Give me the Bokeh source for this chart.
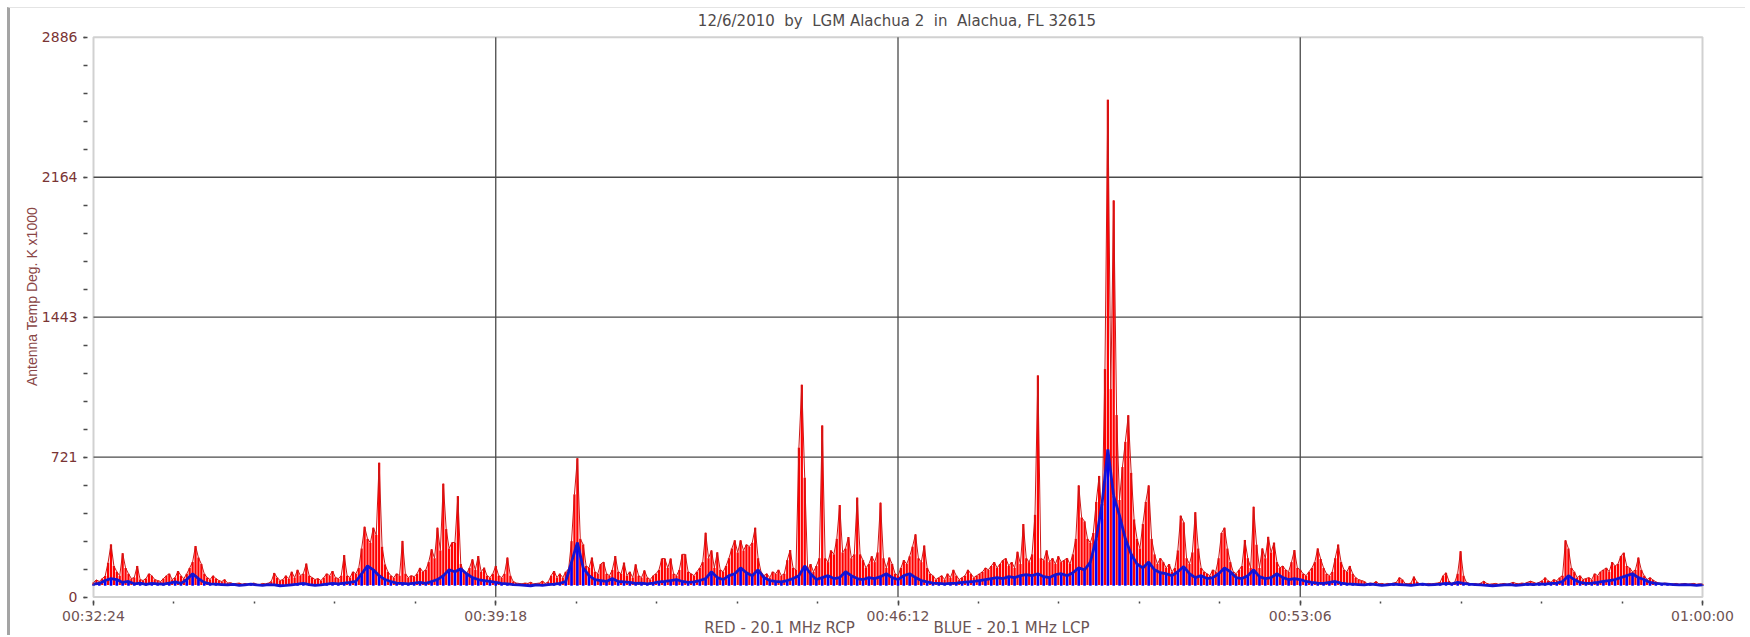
import numpy as np
from math import pi
from bokeh.plotting import figure
from bokeh.models import Range1d, FixedTicker, Label, LinearAxis, BoxAnnotation
from bokeh.embed import file_html
from bokeh.resources import INLINE

# ---------------- data (time = seconds after 00:32:24) ----------------
TITLE = "12/6/2010  by  LGM Alachua 2  in  Alachua, FL 32615"
Y_LABEL = "Antenna Temp Deg. K x1000"
LEGEND_RED = "RED - 20.1 MHz RCP"
LEGEND_BLUE = "BLUE - 20.1 MHz LCP"

x_ticks = [0, 414, 828, 1242, 1656]
x_tick_labels = ["00:32:24", "00:39:18", "00:46:12", "00:53:06", "01:00:00"]
y_ticks = [0, 721, 1443, 2164, 2886]
y_tick_labels = ["0", "721", "1443", "2164", "2886"]

red_step = 3   # seconds between samples
blue_step = 6

red_rcp = [
    75, 88, 80, 95, 108, 177, 271, 160, 130, 110, 225, 150, 120, 95, 100, 160, 90, 85, 95, 120, 110, 90, 85,
    80, 95, 110, 120, 90, 100, 134, 110, 95, 120, 150, 180, 263, 203, 170, 120, 100, 90, 110, 95, 85, 80, 90,
    72, 74, 68, 70, 72, 66, 70, 66, 68, 72, 66, 64, 70, 68, 72, 80, 124, 100, 85, 90, 110, 95, 130,
    100, 140, 110, 120, 172, 110, 100, 90, 95, 85, 100, 120, 110, 134, 100, 95, 110, 216, 110, 100, 130, 120, 150,
    250, 362, 300, 280, 357, 320, 692, 259, 168, 130, 110, 100, 120, 110, 289, 120, 100, 110, 105, 120, 150, 130, 140,
    180, 246, 200, 357, 240, 584, 350, 250, 281, 281, 520, 170, 130, 120, 150, 194, 140, 211, 130, 151, 110, 100, 120,
    160, 110, 100, 120, 203, 110, 80, 72, 70, 68, 72, 70, 76, 68, 70, 72, 82, 70, 78, 110, 134, 100, 120,
    100, 130, 143, 288, 529, 715, 300, 271, 160, 150, 203, 130, 120, 170, 180, 120, 110, 140, 211, 130, 120, 177, 110,
    130, 100, 168, 110, 100, 137, 100, 90, 110, 120, 140, 198, 198, 150, 198, 120, 110, 140, 220, 220, 130, 120, 110,
    130, 150, 180, 331, 200, 240, 150, 230, 140, 130, 160, 200, 250, 292, 230, 292, 240, 270, 260, 280, 357, 200, 130,
    110, 120, 100, 130, 120, 140, 110, 120, 190, 242, 150, 140, 770, 1094, 615, 140, 170, 130, 160, 200, 884, 200, 180,
    240, 220, 300, 474, 230, 250, 309, 200, 220, 512, 220, 190, 150, 170, 210, 180, 230, 486, 200, 150, 203, 170, 120,
    110, 150, 190, 170, 210, 260, 323, 200, 180, 265, 150, 120, 110, 90, 100, 110, 90, 120, 100, 140, 110, 90, 100,
    110, 140, 120, 100, 110, 120, 130, 150, 140, 160, 180, 150, 170, 190, 199, 160, 180, 150, 233, 170, 376, 200, 180,
    220, 424, 1142, 200, 190, 240, 180, 200, 170, 210, 180, 190, 200, 170, 220, 300, 575, 410, 390, 300, 280, 330, 490,
    624, 400, 1175, 2563, 1072, 2044, 938, 500, 670, 800, 937, 640, 400, 300, 250, 376, 490, 575, 300, 220, 170, 200, 180,
    150, 170, 130, 150, 240, 419, 385, 200, 170, 230, 437, 250, 150, 130, 120, 110, 140, 130, 200, 330, 357, 250, 180,
    130, 120, 140, 160, 294, 200, 150, 465, 270, 150, 250, 200, 310, 230, 280, 180, 150, 160, 140, 130, 180, 242, 150,
    140, 120, 110, 130, 150, 180, 250, 196, 150, 120, 110, 130, 200, 270, 180, 140, 130, 160, 120, 100, 90, 85, 80,
    68, 72, 70, 80, 68, 70, 66, 70, 68, 72, 76, 100, 90, 70, 68, 72, 105, 78, 68, 70, 66, 70, 68,
    70, 72, 76, 110, 125, 82, 70, 76, 120, 236, 110, 76, 70, 68, 70, 66, 72, 82, 70, 66, 68, 70, 66,
    68, 70, 66, 70, 76, 70, 68, 72, 70, 76, 82, 76, 70, 76, 84, 100, 84, 76, 90, 84, 100, 110, 292,
    250, 150, 130, 100, 110, 90, 95, 100, 90, 120, 110, 130, 140, 150, 130, 180, 160, 170, 211, 228, 160, 150, 130,
    140, 203, 140, 110, 90, 100, 88, 78, 72, 68, 72, 70, 66, 68, 70, 66, 68, 70, 66, 68, 70, 66, 68,
    66,
]

blue_lcp = [
    66, 70, 85, 95, 90, 75, 80, 68, 72, 65, 70, 68, 66, 72, 78, 70, 90, 120, 95, 75, 68, 66, 64,
    62, 65, 60, 63, 66, 62, 60, 64, 62, 58, 60, 63, 66, 70, 64, 60, 62, 66, 70, 68, 72, 75, 80,
    120, 160, 140, 110, 90, 80, 72, 70, 68, 72, 75, 70, 80, 90, 110, 140, 130, 145, 120, 100, 90, 85, 80,
    75, 70, 68, 64, 62, 60, 58, 62, 60, 64, 66, 70, 80, 180, 280, 150, 110, 90, 85, 80, 95, 80, 78,
    75, 70, 72, 68, 72, 78, 80, 85, 90, 80, 75, 78, 85, 95, 130, 100, 90, 110, 120, 150, 125, 110, 140,
    100, 85, 80, 78, 85, 95, 110, 160, 120, 90, 100, 110, 95, 100, 130, 110, 95, 90, 100, 95, 105, 120, 100,
    90, 110, 120, 100, 85, 78, 72, 70, 68, 70, 72, 75, 78, 80, 85, 90, 95, 100, 95, 105, 100, 110, 115,
    110, 120, 105, 100, 115, 120, 110, 125, 150, 140, 180, 300, 480, 760, 520, 420, 300, 220, 170, 150, 180, 140, 125,
    120, 110, 130, 157, 120, 100, 110, 95, 100, 120, 150, 130, 100, 95, 110, 140, 105, 95, 100, 120, 100, 90, 95,
    90, 80, 75, 72, 70, 75, 80, 72, 68, 66, 64, 62, 66, 64, 60, 62, 66, 64, 62, 60, 64, 66, 62,
    64, 66, 70, 68, 75, 70, 66, 64, 62, 60, 58, 60, 62, 64, 60, 62, 66, 64, 68, 66, 70, 72, 80,
    110, 90, 75, 70, 72, 75, 80, 85, 90, 100, 110, 120, 100, 90, 75, 70, 68, 66, 64, 62, 64, 62, 60,
    62,
]

red_t = np.arange(len(red_rcp)) * red_step
blue_t = np.arange(len(blue_lcp)) * blue_step

# ---------------- layout (canvas pixels) ----------------
CW, CH = 1738, 628
FRAME_L, FRAME_R = 83.0, 1692.0     # plot box left/right edge
FRAME_T, FRAME_B = 28.7, 588.5      # plot box top/bottom edge
sx = (x_ticks[-1] - x_ticks[0]) / (FRAME_R - FRAME_L)
sy = (y_ticks[-1] - y_ticks[0]) / (FRAME_B - FRAME_T)
x_start = x_ticks[0] - FRAME_L * sx
x_end = x_ticks[-1] + (CW - FRAME_R) * sx
y_start = y_ticks[0] - (CH - FRAME_B) * sy
y_end = y_ticks[-1] + FRAME_T * sy


def at(cx, cy):
    """canvas pixel -> data coordinates"""
    return x_start + cx * sx, y_end - cy * sy


p = figure(width=CW, height=CH, output_backend="svg", toolbar_location=None,
           x_range=Range1d(x_start, x_end), y_range=Range1d(y_start, y_end),
           x_axis_location=None, y_axis_location=None, min_border=0)
p.styles = {"margin-left": "7px", "margin-top": "7px",
            "border-left": "3px solid #a4a4a4", "border-top": "1px solid #e4e4e4"}
p.background_fill_color = "white"
p.border_fill_color = "white"
p.outline_line_color = None
for g in list(p.xgrid) + list(p.ygrid):
    g.visible = False

# grid lines inside the plot box
gx = x_ticks[1:-1]
gy = y_ticks[1:-1]
p.segment(x0=gx, y0=[y_ticks[0]] * len(gx), x1=gx, y1=[y_ticks[-1]] * len(gx),
          line_color="#4a4a4a", line_width=1.3)
p.segment(x0=[x_ticks[0]] * len(gy), y0=gy, x1=[x_ticks[-1]] * len(gy), y1=gy,
          line_color="#4a4a4a", line_width=1.3)

# series
p.vbar(x=red_t, top=red_rcp, bottom=62, width=2.3, fill_color="#ff0000", line_color=None)
p.line(red_t, red_rcp, line_color="#cc1818", line_width=1.0)
p.vbar(x=blue_t, top=blue_lcp, bottom=58, width=2.6, fill_color="#0000ff", line_color=None)
p.line(blue_t, blue_lcp, line_color="#1414d0", line_width=2.8)

# plot box
p.add_layout(BoxAnnotation(left=x_ticks[0], right=x_ticks[-1], bottom=y_ticks[0], top=y_ticks[-1],
                           fill_alpha=0, line_color="#666666", line_width=2))

# axes fixed on the plot box edges
xaxis = LinearAxis(fixed_location=y_ticks[0],
                   ticker=FixedTicker(ticks=x_ticks, minor_ticks=[x_ticks[-1] * k / 20 for k in range(21)]))
xaxis.major_label_overrides = dict(zip(x_ticks, x_tick_labels))
xaxis.axis_line_color = None
xaxis.major_tick_in = -3
xaxis.major_tick_out = 8
xaxis.minor_tick_in = -4
xaxis.minor_tick_out = 6
xaxis.major_tick_line_color = "#4a4a4a"
xaxis.minor_tick_line_color = "#4a4a4a"
xaxis.major_tick_line_width = 1.5
xaxis.minor_tick_line_width = 1.5
xaxis.major_label_standoff = 3
xaxis.major_label_text_font = "DejaVu Sans"
xaxis.major_label_text_font_size = "14px"
xaxis.major_label_text_color = "#6e5252"
p.add_layout(xaxis, "below")

yaxis = LinearAxis(fixed_location=x_ticks[0],
                   ticker=FixedTicker(ticks=y_ticks, minor_ticks=[y_ticks[-1] * k / 20 for k in range(21)]))
yaxis.major_label_overrides = dict(zip(y_ticks, y_tick_labels))
yaxis.axis_line_color = None
yaxis.major_tick_in = -8
yaxis.major_tick_out = 10
yaxis.minor_tick_in = -6
yaxis.minor_tick_out = 10
yaxis.major_tick_line_color = "#4a4a4a"
yaxis.minor_tick_line_color = "#4a4a4a"
yaxis.major_tick_line_width = 1.3
yaxis.minor_tick_line_width = 1.3
yaxis.major_label_standoff = 6
yaxis.major_label_text_font = "DejaVu Sans"
yaxis.major_label_text_font_size = "14px"
yaxis.major_label_text_color = "#7a3434"
p.add_layout(yaxis, "left")

# texts (double spaces kept visible with a no-break space)
tx, ty = at(886.5, 12.5)
p.add_layout(Label(x=tx, y=ty, text=TITLE.replace("  ", "\u00a0 "), text_align="center",
                   text_baseline="middle", text_font="DejaVu Sans", text_font_size="15px",
                   text_color="#4e4a4a"))
lx, ly = at(21, 288)
p.add_layout(Label(x=lx, y=ly, text=Y_LABEL, angle=pi / 2, text_align="center",
                   text_baseline="middle", text_font="Liberation Sans",
                   text_font_size="14px", text_color="#8a4646"))
rx, ry = at(769, 619)
p.add_layout(Label(x=rx, y=ry, text=LEGEND_RED, text_align="center", text_baseline="middle",
                   text_font="DejaVu Sans", text_font_size="15px", text_color="#6a5454"))
bx, by = at(1001, 619)
p.add_layout(Label(x=bx, y=by, text=LEGEND_BLUE, text_align="center", text_baseline="middle",
                   text_font="DejaVu Sans", text_font_size="15px", text_color="#6a5454"))

open("out.html", "w").write(file_html(p, INLINE))
